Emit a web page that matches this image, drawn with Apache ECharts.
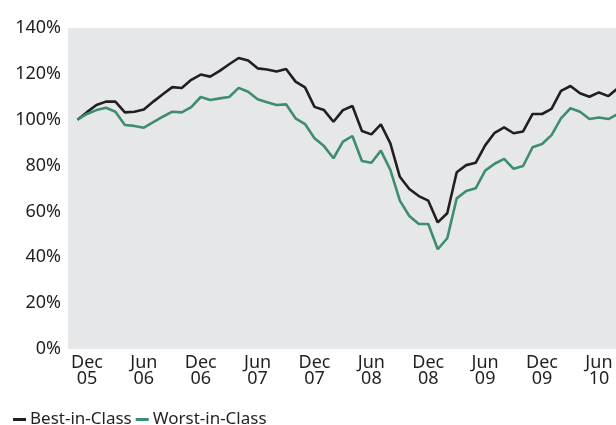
<!DOCTYPE html>
<html>
<head>
<meta charset="utf-8">
<script src="https://cdn.jsdelivr.net/npm/echarts@6/dist/echarts.min.js"></script>
<style>
  html, body { margin: 0; padding: 0; background: #fff; }
  #charts { width: 616px; height: 425px; }
</style>
</head>
<body>
<div id="charts"></div>
<script>
// month of each point (Nov 05 .. Aug 10)
var months = [
  'Nov 05', 'Dec 05',
  'Jan 06', 'Feb 06', 'Mar 06', 'Apr 06', 'May 06', 'Jun 06', 'Jul 06', 'Aug 06', 'Sep 06', 'Oct 06', 'Nov 06', 'Dec 06',
  'Jan 07', 'Feb 07', 'Mar 07', 'Apr 07', 'May 07', 'Jun 07', 'Jul 07', 'Aug 07', 'Sep 07', 'Oct 07', 'Nov 07', 'Dec 07',
  'Jan 08', 'Feb 08', 'Mar 08', 'Apr 08', 'May 08', 'Jun 08', 'Jul 08', 'Aug 08', 'Sep 08', 'Oct 08', 'Nov 08', 'Dec 08',
  'Jan 09', 'Feb 09', 'Mar 09', 'Apr 09', 'May 09', 'Jun 09', 'Jul 09', 'Aug 09', 'Sep 09', 'Oct 09', 'Nov 09', 'Dec 09',
  'Jan 10', 'Feb 10', 'Mar 10', 'Apr 10', 'May 10', 'Jun 10', 'Jul 10', 'Aug 10'
]
// months shown on the x axis
var tickMonths = ['Dec 05', 'Jun 06', 'Dec 06', 'Jun 07', 'Dec 07', 'Jun 08', 'Dec 08', 'Jun 09', 'Dec 09', 'Jun 10']

var best = [
  100, 103.3, 106.4, 107.9, 107.9, 103.2, 103.5, 104.5, 107.9, 111.1,
  114.2, 113.8, 117.4, 119.7, 118.8, 121.3, 124.2, 126.9, 125.8, 122.4,
  121.9, 121.0, 122.1, 116.6, 114.1, 105.6, 104.2, 99.1, 104.2, 106.0,
  95.1, 93.6, 98.0, 89.7, 75.1, 69.8, 66.7, 64.7, 55.2, 59.2,
  77.1, 80.2, 81.2, 88.8, 94.3, 96.7, 94.1, 94.9, 102.5, 102.5,
  104.7, 112.6, 114.7, 111.5, 110.0, 111.9, 110.3, 113.8
]
var worst = [
  100, 102.5, 104.2, 105.2, 103.5, 97.7, 97.3, 96.5, 98.9, 101.3,
  103.5, 103.2, 105.5, 109.9, 108.6, 109.3, 109.9, 113.9, 112.2, 108.9,
  107.6, 106.4, 106.7, 100.6, 98.1, 91.9, 88.5, 83.2, 90.4, 92.9,
  82.0, 81.2, 86.5, 78.1, 64.7, 58.0, 54.5, 54.5, 43.5, 48.3,
  65.7, 68.9, 70.1, 77.8, 80.8, 82.9, 78.6, 79.8, 88.0, 89.4,
  93.3, 100.6, 105.0, 103.5, 100.3, 101.0, 100.3, 102.5
]
var seriesNames = ['Best-in-Class', 'Worst-in-Class']

var textColor = '#231f20'
var font = 'Noto Sans'

function toPoints(arr) {
  return arr.map(function (v, i) { return [i, v] })
}

var myChart = echarts.init(document.getElementById('charts'))
var option = {
  animation: false,
  textStyle: { fontFamily: font, color: textColor },
  legend: {
    left: 8,
    top: 406,
    icon: 'rect',
    itemWidth: 13,
    itemHeight: 3,
    itemGap: 4,
    textStyle: { fontFamily: font, fontSize: 17, color: textColor, padding: [0, 0, 0, -1] },
    data: seriesNames
  },
  grid: {
    left: 68,
    top: 28,
    right: 0,
    bottom: 76,
    show: true,
    backgroundColor: '#e6e7e8',
    borderWidth: 0
  },
  xAxis: {
    type: 'value',
    min: -1,
    max: 56.8,
    axisLine: { show: false },
    axisTick: { show: false },
    splitLine: { show: false },
    axisLabel: {
      customValues: tickMonths.map(function (m) { return months.indexOf(m) }),
      margin: 6,
      fontSize: 18,
      lineHeight: 16,
      color: textColor,
      fontFamily: font,
      formatter: function (v) { return months[v].replace(' ', '\n') }
    }
  },
  yAxis: {
    type: 'value',
    min: 0,
    max: 140,
    interval: 20,
    axisLine: { show: false },
    axisTick: { show: false },
    splitLine: { show: false },
    axisLabel: {
      margin: 7,
      fontSize: 18,
      color: textColor,
      fontFamily: font,
      padding: [0, 0, 5, 0],
      formatter: '{value}%'
    }
  },
  series: [
    {
      name: seriesNames[0],
      type: 'line',
      showSymbol: false,
      symbol: 'none',
      lineStyle: { width: 2.6, color: '#231f20' },
      itemStyle: { color: '#231f20' },
      data: toPoints(best)
    },
    {
      name: seriesNames[1],
      type: 'line',
      showSymbol: false,
      symbol: 'none',
      lineStyle: { width: 2.6, color: '#3f8d70' },
      itemStyle: { color: '#3f8d70' },
      data: toPoints(worst)
    }
  ]
}
myChart.setOption(option)
</script>
</body>
</html>
